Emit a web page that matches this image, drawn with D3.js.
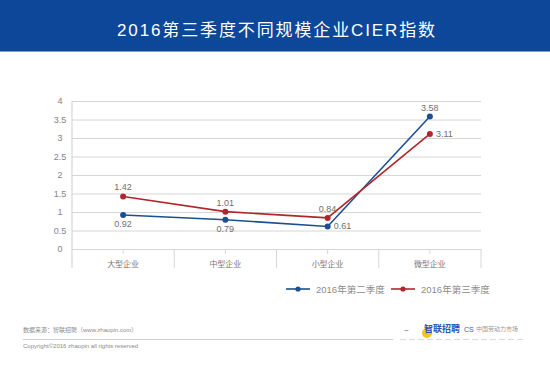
<!DOCTYPE html>
<html>
<head>
<meta charset="utf-8">
<script src="https://cdn.jsdelivr.net/npm/d3@7"></script>
<style>
  html, body { margin: 0; padding: 0; background: #fff; }
  svg { display: block; font-family: "Liberation Sans", "Noto Sans CJK SC", sans-serif; }
</style>
</head>
<body>
<div id="chart"></div>
<script>
// chart data
const titleText = '2016第三季度不同规模企业CIER指数';
const categories = ['大型企业', '中型企业', '小型企业', '微型企业'];
const q2Values = [0.92, 0.79, 0.61, 3.58];
const q3Values = [1.42, 1.01, 0.84, 3.11];
const seriesNames = ['2016年第二季度', '2016年第三季度'];
const yTicks = [0, 0.5, 1, 1.5, 2, 2.5, 3, 3.5, 4];
const sourceText = '数据来源：智联招聘（www.zhaopin.com）';
const copyrightText = 'Copyright©2016 zhaopin all rights reserved';

const width = 550, height = 366;
const margin = { top: 101, right: 69, bottom: 117, left: 72 };

const colors = ['#1b4f94', '#b1262d'];

const svg = d3.select('#chart').append('svg')
  .attr('width', width)
  .attr('height', height);

// header band
svg.append('rect')
  .attr('x', 0).attr('y', 0)
  .attr('width', width).attr('height', 51)
  .attr('fill', '#0c4799');
svg.append('rect')
  .attr('x', 0).attr('y', 51)
  .attr('width', width).attr('height', 1)
  .attr('fill', '#7f9ccb');
svg.append('text')
  .attr('x', 117).attr('y', 36)
  .attr('textLength', 318)
  .attr('lengthAdjust', 'spacing')
  .attr('fill', '#fff')
  .attr('font-size', 17)
  .text(titleText);

const x = d3.scaleBand()
  .domain(categories)
  .range([margin.left, width - margin.right]);
const y = d3.scaleLinear()
  .domain([0, 4])
  .range([height - margin.bottom, margin.top]);
const y0 = y(0);
const plotW = x.range()[1] - x.range()[0];

// horizontal grid lines
const grid = svg.append('g')
  .attr('transform', 'translate(' + margin.left + ',0)')
  .call(d3.axisLeft(y).tickValues(yTicks).tickSize(-plotW).tickFormat(''));
grid.select('.domain').remove();
grid.selectAll('.tick line').attr('stroke', '#d6d6d6').attr('stroke-width', 1);

// y labels
svg.append('g').selectAll('text')
  .data(yTicks)
  .join('text')
  .attr('x', 60)
  .attr('y', d => y(d) + 3)
  .attr('text-anchor', 'middle')
  .attr('font-size', 9)
  .attr('fill', '#858585')
  .text(d => d);

// left axis line
svg.append('line')
  .attr('x1', margin.left).attr('x2', margin.left)
  .attr('y1', margin.top).attr('y2', y0 + 19)
  .attr('stroke', '#cfcfcf');

// category dividers
const bounds = categories.map(c => x(c)).concat([x.range()[1]]);
svg.append('g').selectAll('line')
  .data(bounds.slice(1))
  .join('line')
  .attr('x1', d => d).attr('x2', d => d)
  .attr('y1', y0).attr('y2', y0 + 19)
  .attr('stroke', '#d6d6d6');

// center ticks
svg.append('g').selectAll('line')
  .data(categories)
  .join('line')
  .attr('x1', d => x(d) + x.bandwidth() / 2)
  .attr('x2', d => x(d) + x.bandwidth() / 2)
  .attr('y1', y0).attr('y2', y0 + 5)
  .attr('stroke', '#d6d6d6');

// category labels
svg.append('g').selectAll('text')
  .data(categories)
  .join('text')
  .attr('x', d => x(d) + x.bandwidth() / 2)
  .attr('y', y0 + 18)
  .attr('text-anchor', 'middle')
  .attr('font-size', 8)
  .attr('fill', '#777')
  .text(d => d);

const line = d3.line()
  .x((d, i) => x(categories[i]) + x.bandwidth() / 2)
  .y(d => y(d));

// label placement for each point
function labelPos(s, i) {
  if (s === 0) {
    if (i === 2) return 'right';
    if (i === 3) return 'above';
    return 'below';
  }
  return i === 3 ? 'right' : 'above';
}

[q2Values, q3Values].forEach((vals, s) => {
  const g = svg.append('g');
  g.append('path')
    .datum(vals)
    .attr('d', line)
    .attr('fill', 'none')
    .attr('stroke', colors[s])
    .attr('stroke-width', 1.6);
  g.selectAll('circle')
    .data(vals)
    .join('circle')
    .attr('cx', (d, i) => x(categories[i]) + x.bandwidth() / 2)
    .attr('cy', d => y(d))
    .attr('r', 3)
    .attr('fill', colors[s]);
  g.selectAll('text')
    .data(vals)
    .join('text')
    .each(function (d, i) {
      const cx = x(categories[i]) + x.bandwidth() / 2;
      const cy = y(d);
      const p = labelPos(s, i);
      const t = d3.select(this);
      if (p === 'right') {
        t.attr('x', cx + 6).attr('y', cy + 3).attr('text-anchor', 'start');
      } else if (p === 'above') {
        t.attr('x', cx).attr('y', cy - 6).attr('text-anchor', 'middle');
      } else {
        t.attr('x', cx).attr('y', cy + 12).attr('text-anchor', 'middle');
      }
    })
    .attr('font-size', 9)
    .attr('fill', '#6f6f6f')
    .text(d => d3.format('.2f')(d));
});

// legend
const legendX = [286, 391];
seriesNames.forEach((name, s) => {
  const lg = svg.append('g').attr('transform', 'translate(' + legendX[s] + ',289)');
  lg.append('line')
    .attr('x1', 0).attr('x2', 24)
    .attr('stroke', colors[s]).attr('stroke-width', 1.6);
  lg.append('circle')
    .attr('cx', 12).attr('r', 2.6)
    .attr('fill', colors[s]);
  lg.append('text')
    .attr('x', 30).attr('y', 3.5)
    .attr('font-size', 9.5)
    .attr('fill', '#8c8c8c')
    .text(name);
});

// footer
svg.append('text')
  .attr('x', 23).attr('y', 332)
  .attr('font-size', 6)
  .attr('fill', '#8a8a8a')
  .text(sourceText);
svg.append('line')
  .attr('x1', 23).attr('x2', 393)
  .attr('y1', 339.5).attr('y2', 339.5)
  .attr('stroke', '#d0d0d0');
svg.append('text')
  .attr('x', 23).attr('y', 348)
  .attr('font-size', 6)
  .attr('fill', '#8a8a8a')
  .text(copyrightText);

// logo approximation
const logo = svg.append('g');
logo.append('circle')
  .attr('cx', 427).attr('cy', 333).attr('r', 5)
  .attr('fill', '#f3c51d');
logo.append('text')
  .attr('x', 404).attr('y', 333)
  .attr('font-size', 8).attr('fill', '#3a5aa8')
  .text('~');
logo.append('text')
  .attr('x', 424).attr('y', 332)
  .attr('font-size', 9).attr('font-weight', 'bold')
  .attr('fill', '#2a55b0')
  .text('智联招聘');
logo.append('text')
  .attr('x', 464).attr('y', 332)
  .attr('font-size', 7).attr('fill', '#3a5aa8')
  .text('CS');
logo.append('text')
  .attr('x', 476).attr('y', 331)
  .attr('font-size', 6).attr('fill', '#999')
  .text('中国劳动力市场');
logo.append('line')
  .attr('x1', 400).attr('x2', 525)
  .attr('y1', 339.5).attr('y2', 339.5)
  .attr('stroke', '#d8d8d8')
  .attr('stroke-dasharray', '6,3');
</script>
</body>
</html>
